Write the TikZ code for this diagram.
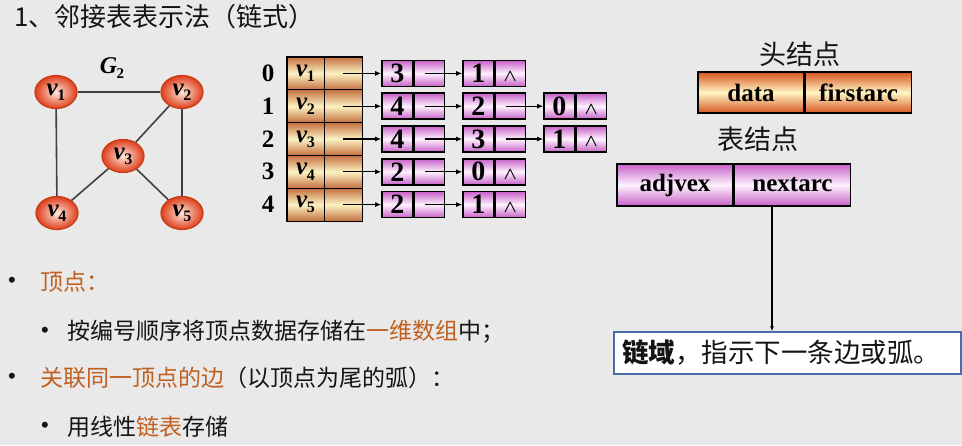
\documentclass[tikz,border=0pt]{standalone}
\usepackage{amsmath}
\usepackage{fontspec}
\setmainfont{Liberation Serif}
\newfontfamily\cjk{Noto Sans CJK SC}
\newfontfamily\bulletfont{Liberation Sans}
\usetikzlibrary{shapes.geometric,arrows.meta,calc}
\definecolor{bgc}{HTML}{E9E9E9}
\definecolor{arrO}{RGB}{196,112,62}
\definecolor{arrM}{RGB}{252,242,196}
\definecolor{hdO}{RGB}{216,84,30}
\definecolor{hdM}{RGB}{255,246,196}
\definecolor{purO}{RGB}{200,96,200}
\definecolor{purM}{RGB}{253,242,253}
\definecolor{gOut}{RGB}{222,62,28}
\definecolor{gIn}{RGB}{255,232,220}
\definecolor{gBord}{RGB}{200,60,20}
\definecolor{edgec}{RGB}{64,64,64}
\definecolor{orgtxt}{RGB}{192,96,32}
\definecolor{txtc}{RGB}{20,20,20}
\definecolor{chainbd}{RGB}{70,110,170}
\newcommand\vsub[1]{{\bfseries\itshape v}\kern-0.5pt\raisebox{-0.45ex}{\fontsize{16}{16}\selectfont\bfseries #1}}
\newcommand\gsub[1]{{\bfseries\itshape G}\kern-0.5pt\raisebox{-0.45ex}{\fontsize{15}{15}\selectfont\bfseries #1}}
\begin{document}
\begin{tikzpicture}[x=1pt,y=-1pt,
  gnode/.style={ellipse, draw=gBord, line width=1.2pt, inner color=gIn, outer color=gOut,
    minimum width=42pt, minimum height=33pt, inner sep=0pt, font=\fontsize{25}{25}\selectfont},
  gedge/.style={draw=edgec, line width=1.6pt},
  hcell/.style={draw=black, line width=1pt, top color=arrO, bottom color=arrO, middle color=arrM,
    minimum height=32.8pt, inner sep=0pt, font=\fontsize{25}{25}\selectfont},
  lcell/.style={draw=black, line width=1.6pt, top color=purO, bottom color=purO, middle color=purM,
    minimum height=26pt, minimum width=30.5pt, inner sep=0pt, font=\fontsize{28}{28}\selectfont\bfseries},
  idx/.style={font=\fontsize{25}{25}\selectfont\bfseries, inner sep=0pt},
  ptr/.style={draw=black, line width=1.1pt, -{Latex[length=6pt,width=5pt]}},
  bigcell/.style={draw=black, line width=1.5pt, inner sep=0pt, font=\fontsize{25}{25}\selectfont\bfseries},
  cjktxt/.style={font=\cjk\fontsize{23}{23}\selectfont, text=txtc, inner sep=0pt},
  bul/.style={font=\bulletfont\fontsize{22}{22}\selectfont, text=txtc, inner sep=0pt}
]
\useasboundingbox (0,0) rectangle (962,445);
\fill[bgc] (0,0) rectangle (962,445);

% title
\node[anchor=west, font=\cjk\fontsize{26}{26}\selectfont, text=txtc, inner sep=0pt] (title) at (14,17) {1、邻接表表示法（链式）};

% graph G2
\node[inner sep=0pt, font=\fontsize{24}{24}\selectfont] (g2) at (112,68) {\gsub{2}};
\node[gnode] (v1) at (56,92) {\vsub{1}};
\node[gnode] (v2) at (182,92) {\vsub{2}};
\node[gnode] (v3) at (123,156) {\vsub{3}};
\node[gnode] (v4) at (57,213) {\vsub{4}};
\node[gnode] (v5) at (182,213) {\vsub{5}};
\draw[gedge] (v1) -- (v2);
\draw[gedge] (v1) -- (v4);
\draw[gedge] (v2) -- (v5);
\draw[gedge] (v2) -- (v3);
\draw[gedge] (v3) -- (v4);
\draw[gedge] (v3) -- (v5);

% head array
\foreach \r in {0,...,4} {
  \pgfmathsetmacro\yy{73.4+32.8*\r}
  \pgfmathtruncatemacro\vv{\r+1}
  \node[idx] (i\r) at (268,\yy) {\r};
  \node[hcell, minimum width=37pt] (h\r d) at (305.5,\yy) {\vsub{\vv}};
  \node[hcell, minimum width=38pt] (h\r p) at (343,\yy) {};
}
\draw[line width=1.8pt] (h0d.north west) rectangle (h4p.south east);

% adjacency lists
\foreach \r/\list in {0/{3,1}, 1/{4,2,0}, 2/{4,3,1}, 3/{2,0}, 4/{2,1}} {
  \pgfmathsetmacro\yy{73.4+32.8*\r}
  \foreach \val [count=\k] in \list {
    \pgfmathsetmacro\xx{397.25+81*(\k-1)}
    \node[lcell] (l\r-\k d) at (\xx,\yy) {\val};
    \node[lcell, anchor=west] (l\r-\k p) at (l\r-\k d.east) {};
  }
}
% terminators
\foreach \n in {l0-2p, l1-3p, l2-3p, l3-2p, l4-2p} {
  \node[inner sep=0pt, font=\fontsize{18}{18}\selectfont] at ([yshift=-3pt]\n.center) {$\boldsymbol{\wedge}$};
}
% pointers
\foreach \r in {0,...,4} {
  \draw[ptr] (h\r p.center) -- (l\r-1d.west);
}
\draw[ptr] ([xshift=-4pt]l0-1p.center) -- (l0-2d.west);
\draw[ptr] ([xshift=-4pt]l1-1p.center) -- (l1-2d.west);
\draw[ptr] ([xshift=-4pt]l1-2p.center) -- (l1-3d.west);
\draw[ptr] ([xshift=-4pt]l2-1p.center) -- (l2-2d.west);
\draw[ptr] ([xshift=-4pt]l2-2p.center) -- (l2-3d.west);
\draw[ptr] ([xshift=-4pt]l3-1p.center) -- (l3-2d.west);
\draw[ptr] ([xshift=-4pt]l4-1p.center) -- (l4-2d.west);

% head node structure
\node[font=\cjk\fontsize{27}{27}\selectfont, text=txtc, inner sep=0pt] (hlab) at (800,54) {头结点};
\node[bigcell, top color=hdO, bottom color=hdO, middle color=hdM, minimum width=106pt, minimum height=41pt] (hdata) at (751,92.5) {data};
\node[bigcell, top color=hdO, bottom color=hdO, middle color=hdM, minimum width=106pt, minimum height=41pt, anchor=west] (hfirst) at (hdata.east) {firstarc};

% table node structure
\node[font=\cjk\fontsize{27}{27}\selectfont, text=txtc, inner sep=0pt] (tlab) at (758,139) {表结点};
\node[bigcell, top color=purO, bottom color=purO, middle color=purM, minimum width=116pt, minimum height=42pt] (tadj) at (675,185) {adjvex};
\node[bigcell, top color=purO, bottom color=purO, middle color=purM, minimum width=116pt, minimum height=42pt, anchor=west] (tnext) at (tadj.east) {nextarc};

% chain description
\node[draw=chainbd, fill=white, line width=1.5pt, minimum width=347pt, minimum height=42pt, inner sep=0pt] (chain) at (787.5,353) {};
\node[anchor=west, font=\cjk\fontsize{26.5}{26.5}\selectfont, text=txtc, inner sep=0pt] (chaintxt) at ([xshift=9pt]chain.west) {\textbf{链域}，指示下一条边或弧。};
\coordinate (pf) at (772,206);
\draw[line width=1.3pt, -{Latex[length=5pt,width=4pt]}] (pf) -- (pf |- chain.north);

% bullets
\node[bul] (b1) at (12,282) {•};
\node[cjktxt, anchor=west] (t1) at (40,282) {\textcolor{orgtxt}{顶点：}};
\node[bul] (b2) at (45,332) {•};
\node[cjktxt, anchor=west] (t2) at (67,332) {按编号顺序将顶点数据存储在\textcolor{orgtxt}{一维数组}中；};
\node[bul] (b3) at (12,378) {•};
\node[cjktxt, anchor=west] (t3) at (40,378) {\textcolor{orgtxt}{关联同一顶点的边}（以顶点为尾的弧）：};
\node[bul] (b4) at (45,427) {•};
\node[cjktxt, anchor=west] (t4) at (67,427) {用线性\textcolor{orgtxt}{链表}存储};
\end{tikzpicture}
\end{document}
